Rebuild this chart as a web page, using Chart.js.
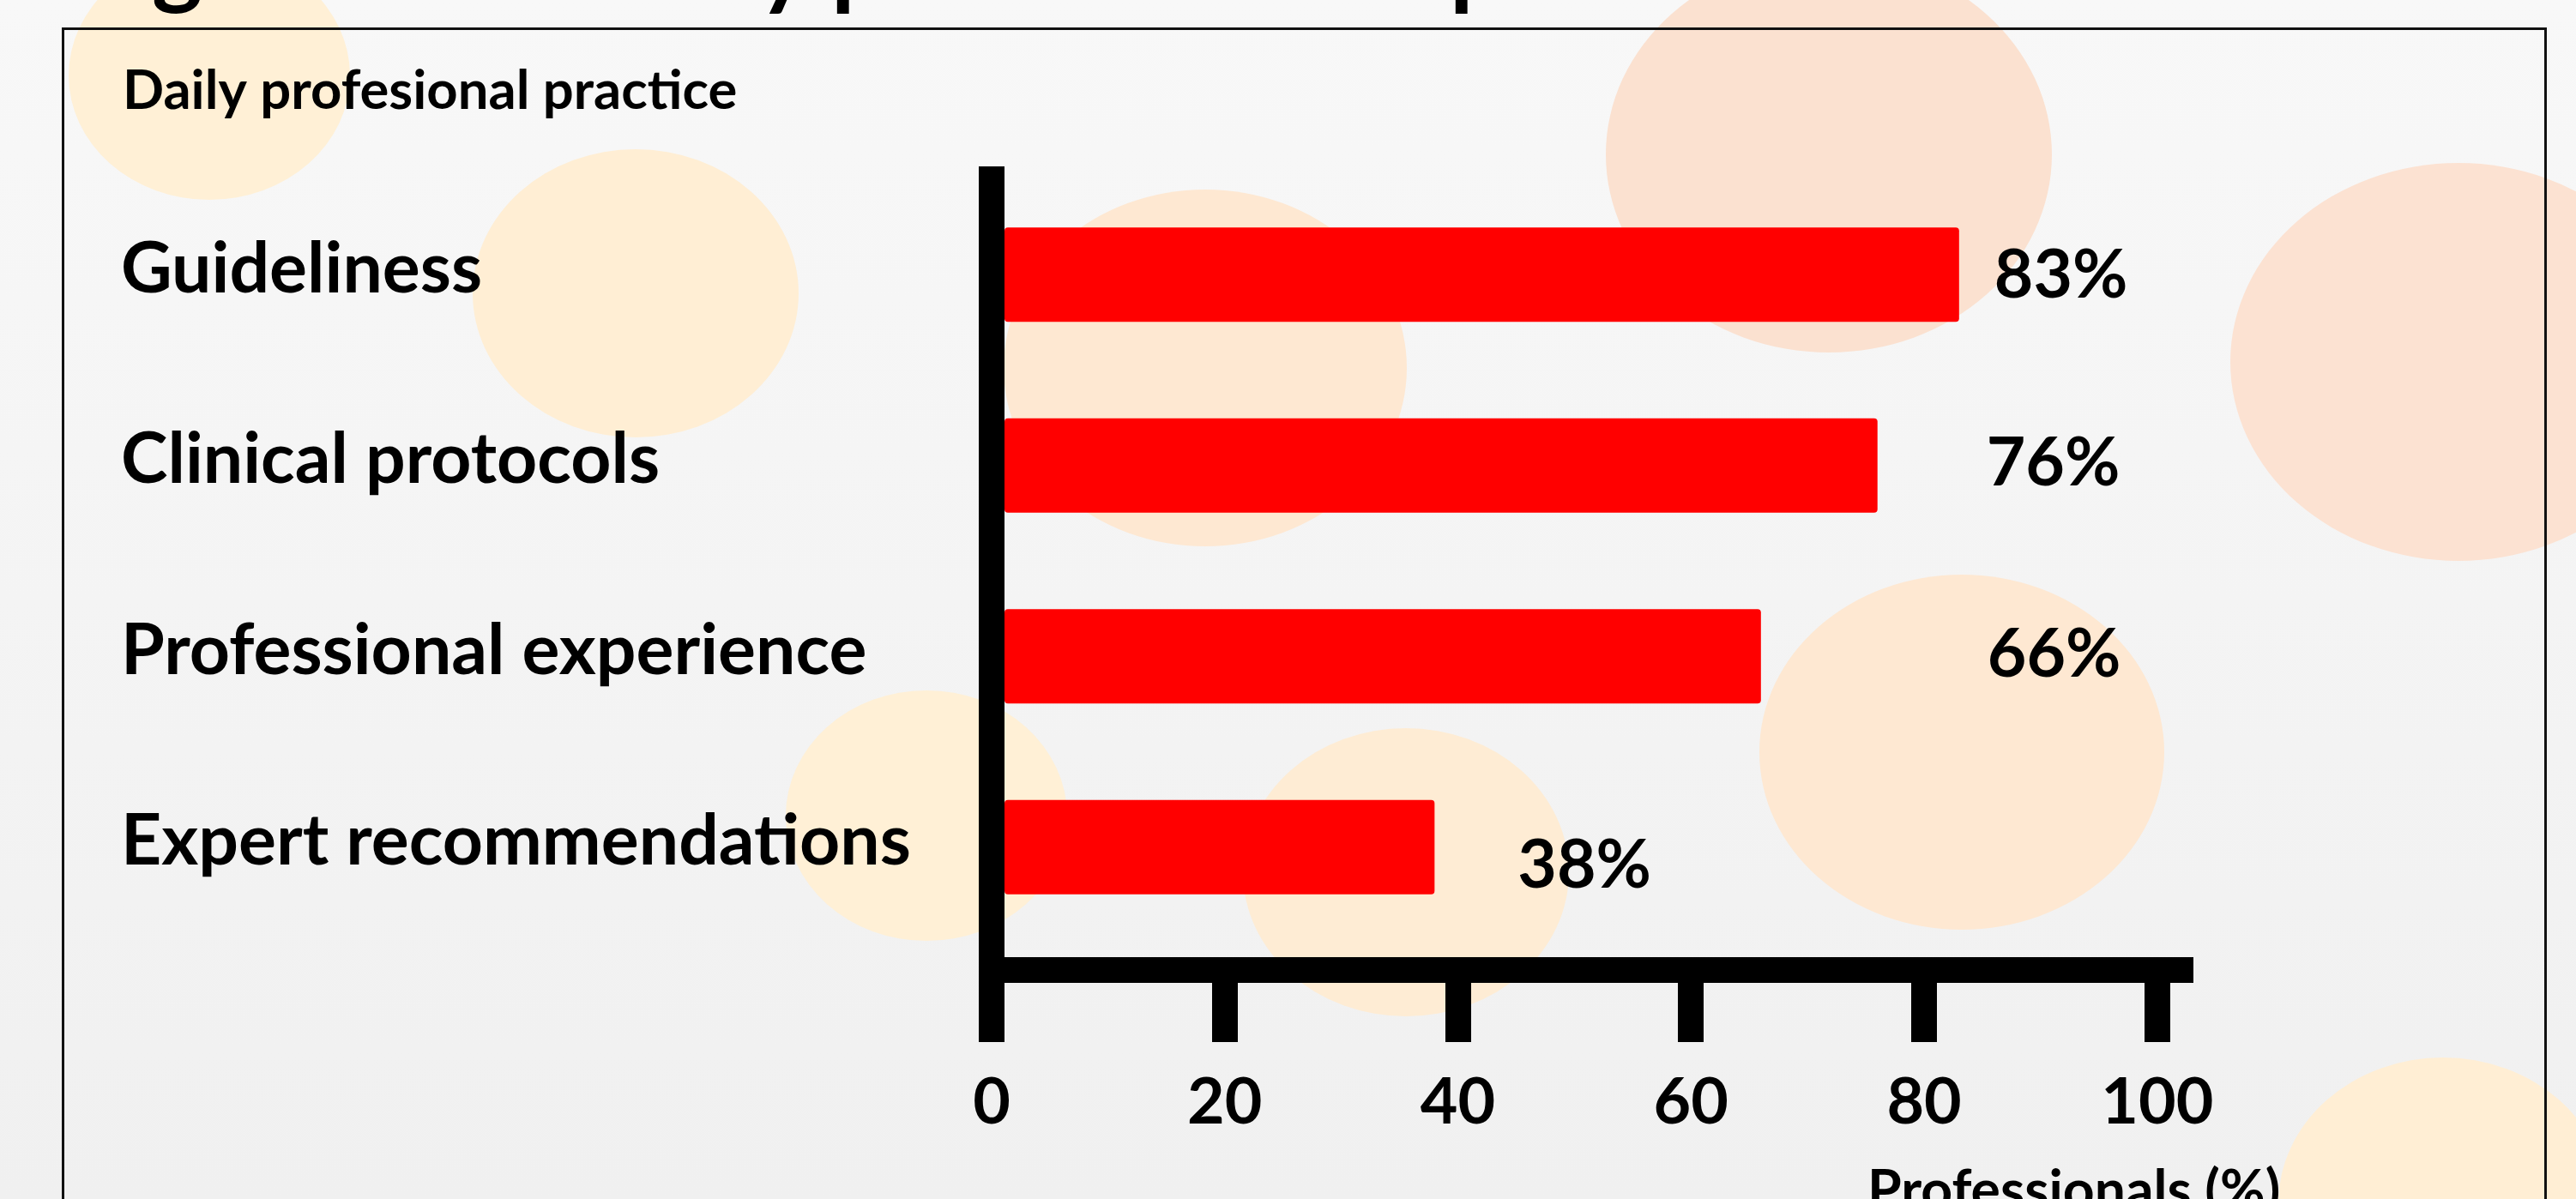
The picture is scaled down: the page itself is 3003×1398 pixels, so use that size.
<!DOCTYPE html>
<html><head><meta charset="utf-8">
<script src="https://cdn.jsdelivr.net/npm/chart.js@4.4.1/dist/chart.umd.min.js"></script>
<style>html,body{margin:0;padding:0;background:#f5f5f5;overflow:hidden}canvas{display:block}</style>
</head><body><canvas id="c" width="3003" height="1398"></canvas>
<script>
// ---- data ----
const categories = ['Guideliness', 'Clinical protocols', 'Professional experience', 'Expert recommendations'];
const percentValues = [83, 76, 66, 38];
const xTickValues = [0, 20, 40, 60, 80, 100];
const panelTitle = 'Daily profesional practice';
const xAxisTitle = 'Professionals (%)';
const headingGlyphs = ['g', 'y', 'p', 'p']; // only descenders of the slide heading show at the top edge

// ---- styling ----
const FAMILY = 'Lato, Carlito, "Open Sans", sans-serif';
function inkWidth(text, size) {
  const c = document.createElement('canvas').getContext('2d');
  c.font = `bold ${size}px ${FAMILY}`;
  const m = c.measureText(text);
  return m.actualBoundingBoxLeft + m.actualBoundingBoxRight;
}
function fitSize(text, target) { return 100 * target / inkWidth(text, 100); }
const catSize = fitSize(categories[3], 912);
const tickSize = fitSize('100', 125);
const valSize = fitSize('83%', 151);
const panelSize = fitSize(panelTitle, 710);
const axisTitleSize = fitSize(xAxisTitle, 474);

const LABEL_GAP = [44, 130, 267, 99];
const LABEL_DY = [-2, -6, -5, 18];

const ellipses = [
  [244, 88, 164, 145, 'rgb(255,240,214)'],
  [741, 342, 190, 168, 'rgb(255,238,212)'],
  [1405, 429, 235, 208, 'rgb(254,232,210)'],
  [2132, 180, 260, 231, 'rgb(251,225,208)'],
  [2866, 422, 266, 232, 'rgb(252,226,210)'],
  [2287, 877, 236, 207, 'rgb(254,232,210)'],
  [1080, 951, 164, 146, 'rgb(255,240,214)'],
  [1639, 1017, 190, 168, 'rgb(254,236,212)'],
  [2848, 1403, 192, 170, 'rgb(255,238,212)']
];

const backdrop = {
  id: 'backdrop',
  beforeDraw(chart) {
    const ctx = chart.ctx, W = chart.width, H = chart.height;
    ctx.save();
    const g = ctx.createLinearGradient(0, 0, 0, H);
    g.addColorStop(0, '#f8f8f8'); g.addColorStop(1, '#f0f0f0');
    ctx.fillStyle = g; ctx.fillRect(0, 0, W, H);
    ellipses.forEach(([cx, cy, rx, ry, col]) => {
      ctx.beginPath(); ctx.ellipse(cx, cy, rx, ry, 0, 0, Math.PI * 2);
      ctx.fillStyle = col; ctx.fill();
    });
    ctx.strokeStyle = '#111'; ctx.lineWidth = 3;
    ctx.beginPath();
    ctx.moveTo(73.5, H + 5); ctx.lineTo(73.5, 33.5); ctx.lineTo(2967.5, 33.5); ctx.lineTo(2967.5, H + 5);
    ctx.stroke();
    ctx.restore();
  },
  afterDraw(chart) {
    const ctx = chart.ctx;
    ctx.save();
    ctx.fillStyle = '#000'; ctx.textAlign = 'left'; ctx.textBaseline = 'alphabetic';
    // panel title
    ctx.font = `bold ${panelSize}px ${FAMILY}`;
    let m = ctx.measureText(panelTitle);
    ctx.fillText(panelTitle, 148 + m.actualBoundingBoxLeft, 127);
    // x axis title
    ctx.font = `bold ${axisTitleSize}px ${FAMILY}`;
    m = ctx.measureText(xAxisTitle);
    const capP = ctx.measureText('P').actualBoundingBoxAscent;
    ctx.fillText(xAxisTitle, 2182 + m.actualBoundingBoxLeft, 1363 + capP);
    // heading descenders
    ctx.font = `bold 112px ${FAMILY}`;
    const gx = [179, 884, 975, 1696];
    headingGlyphs.forEach((ch, i) => {
      const mm = ctx.measureText(ch);
      ctx.fillText(ch, gx[i] + mm.actualBoundingBoxLeft, 16 - mm.actualBoundingBoxDescent);
    });
    ctx.restore();
  }
};

const valueLabels = {
  id: 'valueLabels',
  afterDatasetsDraw(chart) {
    const meta = chart.getDatasetMeta(0);
    const ctx = chart.ctx;
    ctx.save();
    ctx.font = `bold ${valSize}px ${FAMILY}`;
    ctx.fillStyle = '#000'; ctx.textAlign = 'left'; ctx.textBaseline = 'alphabetic';
    meta.data.forEach((bar, i) => {
      const txt = percentValues[i] + '%';
      const m = ctx.measureText(txt);
      const capH = ctx.measureText('8').actualBoundingBoxAscent;
      ctx.fillText(txt, bar.x + LABEL_GAP[i] + m.actualBoundingBoxLeft, bar.y + LABEL_DY[i] + capH / 2);
    });
    ctx.restore();
  }
};

new Chart(document.getElementById('c'), {
  type: 'bar',
  data: {
    labels: categories,
    datasets: [{
      data: percentValues,
      backgroundColor: '#ff0000',
      borderRadius: 4,
      borderSkipped: false,
      barPercentage: 0.494,
      categoryPercentage: 1,
      clip: false
    }]
  },
  options: {
    indexAxis: 'y',
    responsive: false,
    animation: false,
    devicePixelRatio: 1,
    layout: { padding: { left: 141, top: 209, right: 461, bottom: 299 } },
    plugins: { legend: { display: false }, tooltip: { enabled: false }, title: { display: false } },
    scales: {
      y: {
        type: 'category',
        offset: true,
        grid: { display: false, lineWidth: 64, drawTicks: false },
        border: { display: true, color: '#000', width: 30, z: -1 },
        ticks: { crossAlign: 'far', color: '#000', padding: 0, labelOffset: -6,
                 font: { family: FAMILY, weight: 'bold', size: catSize } },
        afterFit: (s) => { s.width = 1015; }
      },
      x: {
        type: 'linear',
        min: 0,
        max: 102,
        position: { y: 3.643 },
        grid: { display: true, drawOnChartArea: false, drawTicks: true, tickLength: 69,
                tickWidth: 30, tickColor: '#000', lineWidth: 30, color: '#000' },
        border: { display: true, color: '#000', width: 30, z: -1 },
        afterBuildTicks: (s) => { s.ticks = xTickValues.map(v => ({ value: v })); },
        ticks: { color: '#000', padding: 41, maxRotation: 0, autoSkip: false, includeBounds: false,
                 font: { family: FAMILY, weight: 'bold', size: tickSize } }
      }
    }
  },
  plugins: [backdrop, valueLabels]
});
</script>
</body></html>
